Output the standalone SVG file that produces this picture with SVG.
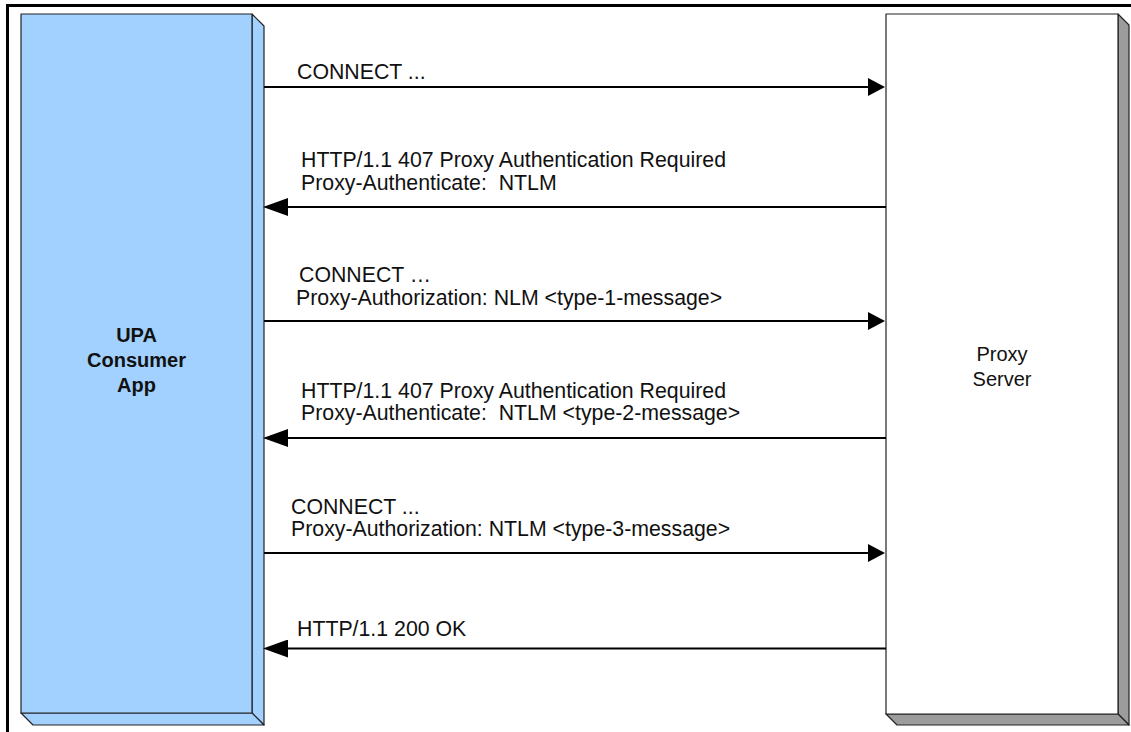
<svg xmlns="http://www.w3.org/2000/svg" width="1131" height="732" viewBox="0 0 1131 732">
<style>
.lbl{font-family:"Liberation Sans",Arial,sans-serif;font-size:21.3px;fill:#111;white-space:pre}
.node{font-family:"Liberation Sans",Arial,sans-serif;font-size:20px;fill:#111;text-anchor:middle}
.bold{font-weight:bold}
.edge{stroke:#000;stroke-width:2;fill:none}
.face{stroke:#222;stroke-width:1.2;stroke-linejoin:round}
.blue{fill:#a2d1ff}
.white{fill:#ffffff}
.gray{fill:#9c9c9c}
</style>
<defs>
<marker id="ahR" markerUnits="userSpaceOnUse" markerWidth="17" markerHeight="18" refX="9" refY="9" orient="auto">
<path d="M0,0 L17,9 L0,18 Z" fill="#000"/>
</marker>
<marker id="ahL" markerUnits="userSpaceOnUse" markerWidth="25" markerHeight="18" refX="17" refY="9" orient="auto">
<path d="M0,0 L25,9 L0,18 Z" fill="#000"/>
</marker>
</defs>
<rect width="1131" height="732" fill="#fff"/>
<g id="frame">
<path d="M7.5,732 V5.5 H1131" fill="none" stroke="#000" stroke-width="3"/>
</g>
<g id="upa">
<polygon class="face blue" points="252,14 264,26 264,725 252,713"/>
<polygon class="face blue" points="21,713 252,713 264,725 33,725"/>
<rect class="face blue" x="21" y="14" width="231" height="699"/>
<text class="node bold" x="136.5" y="342">UPA</text>
<text class="node bold" x="136.5" y="367">Consumer</text>
<text class="node bold" x="136.5" y="392">App</text>
</g>
<g id="proxy">
<polygon class="face gray" points="1118,14 1129,25 1129,725 1118,714"/>
<polygon class="face gray" points="886,714 1118,714 1129,725 897,725"/>
<rect class="face white" x="886" y="14" width="232" height="700"/>
<text class="node" x="1002" y="361">Proxy</text>
<text class="node" x="1002" y="386">Server</text>
</g>
<g id="connectors">
<line class="edge" x1="264" y1="87" x2="877" y2="87" marker-end="url(#ahR)"/>
<line class="edge" x1="886" y1="207" x2="271" y2="207" marker-end="url(#ahL)"/>
<line class="edge" x1="264" y1="321" x2="877" y2="321" marker-end="url(#ahR)"/>
<line class="edge" x1="886" y1="438" x2="271" y2="438" marker-end="url(#ahL)"/>
<line class="edge" x1="264" y1="553" x2="877" y2="553" marker-end="url(#ahR)"/>
<line class="edge" x1="886" y1="648.5" x2="271" y2="648.5" marker-end="url(#ahL)"/>
</g>
<g id="labels">
<text class="lbl" x="297" y="79">CONNECT ...</text>
<text class="lbl" x="301" y="167">HTTP/1.1 407 Proxy Authentication Required</text>
<text class="lbl" x="301" y="190">Proxy-Authenticate:  NTLM</text>
<text class="lbl" x="299" y="282">CONNECT …</text>
<text class="lbl" x="296" y="305">Proxy-Authorization: NLM &lt;type-1-message&gt;</text>
<text class="lbl" x="301" y="398">HTTP/1.1 407 Proxy Authentication Required</text>
<text class="lbl" x="301" y="420">Proxy-Authenticate:  NTLM &lt;type-2-message&gt;</text>
<text class="lbl" x="291" y="514">CONNECT ...</text>
<text class="lbl" x="291" y="536">Proxy-Authorization: NTLM &lt;type-3-message&gt;</text>
<text class="lbl" x="297" y="636">HTTP/1.1 200 OK</text>
</g>
</svg>
